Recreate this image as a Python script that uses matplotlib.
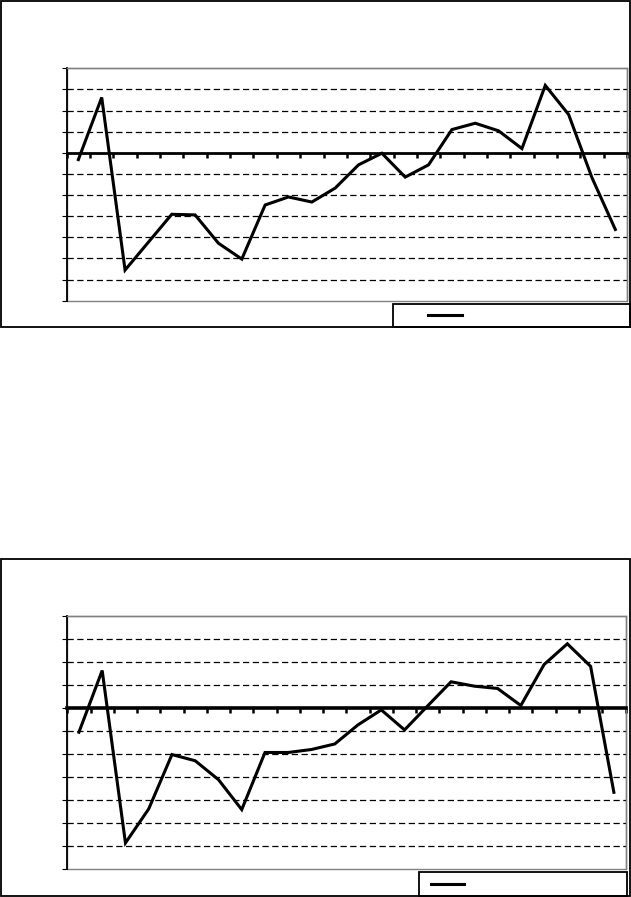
import numpy as np
import matplotlib
matplotlib.use("Agg")
import matplotlib.pyplot as plt
from matplotlib.patches import Rectangle
from matplotlib.lines import Line2D

# values (24 periods each, no labels shown)
periods = np.arange(24)
series_top = [-0.32, 2.62, -5.55, -4.23, -2.91, -2.94, -4.28, -5.03,
              -2.47, -2.09, -2.33, -1.67, -0.57, -0.02, -1.15, -0.57,
              1.10, 1.40, 1.04, 0.20, 3.19, 1.81, -1.18, -3.63]
series_bottom = [-1.06, 1.62, -5.87, -4.39, -2.03, -2.30, -3.12, -4.42,
                 -1.94, -1.94, -1.81, -1.57, -0.74, -0.09, -0.96, 0.09,
                 1.13, 0.94, 0.84, 0.10, 1.88, 2.78, 1.80, -3.67]
y_min, y_max = -7, 4
grid_levels = [v for v in range(y_min + 1, y_max) if v != 0]

W, H = 631, 897
fig = plt.figure(figsize=(W / 100, H / 100), dpi=100)


def px(x0, y0, x1, y1):
    # pixel box (top-left origin) -> figure fraction rect
    return [x0 / W, 1 - y1 / H, (x1 - x0) / W, (y1 - y0) / H]


def draw_chart(values, box, plot, legend_box, sample, zero_lw):
    # outer frame of the chart
    bx = px(*box)
    fig.add_artist(Rectangle((bx[0], bx[1]), bx[2], bx[3], transform=fig.transFigure,
                             fill=False, edgecolor="black", linewidth=1.3))

    ax = fig.add_axes(px(*plot))
    ax.set_xlim(-0.5, len(values) - 0.5)
    ax.set_ylim(y_min, y_max)

    for g in grid_levels:
        ax.axhline(g, color="black", linewidth=0.9, dashes=(5, 2.8), zorder=1)

    ax.plot(periods[:len(values)], values, color="black", linewidth=2.2,
            solid_joinstyle="miter", zorder=3)

    # plot-area border in grey
    for s in ["top", "right"]:
        ax.spines[s].set_color("#808080")
        ax.spines[s].set_linewidth(1.0)
    ax.add_patch(Rectangle((0, 0), 1, 1, transform=ax.transAxes, fill=False,
                           edgecolor="#808080", linewidth=1.0, clip_on=False, zorder=0))
    ax.spines["left"].set_color("black")
    ax.spines["left"].set_linewidth(1.3)

    # category axis sits on zero
    ax.spines["bottom"].set_position(("data", 0))
    ax.spines["bottom"].set_linewidth(zero_lw)
    ax.spines["bottom"].set_zorder(4)
    ax.set_xticks(np.arange(-0.5, len(values), 1.0))
    ax.tick_params(axis="x", direction="out", length=3.5, width=1.8, color="black",
                   labelbottom=False)
    ax.set_yticks(range(y_min, y_max + 1))
    ax.tick_params(axis="y", direction="out", length=3.5, width=0.8, color="black",
                   labelleft=False)

    # legend with an empty entry
    lb = px(*legend_box)
    fig.add_artist(Rectangle((lb[0], lb[1]), lb[2], lb[3], transform=fig.transFigure,
                             fill=False, edgecolor="black", linewidth=1.3))
    sx0, sx1, sy = sample
    fig.add_artist(Line2D([sx0 / W, sx1 / W], [1 - sy / H, 1 - sy / H],
                          transform=fig.transFigure, color="black", linewidth=2.2))
    return ax


draw_chart(series_top, (0.7, 0.7, 630.3, 327), (66.7, 68.3, 627, 300.7),
           (393, 304, 630.3, 327), (428, 461.5, 315.3), 2.0)
draw_chart(series_bottom, (0.7, 559, 630.3, 896), (67.3, 615.7, 625.5, 869),
           (418.5, 872.3, 627, 896), (430.5, 464, 884.3), 2.6)

fig.savefig("out.png", dpi=100, facecolor="white")
